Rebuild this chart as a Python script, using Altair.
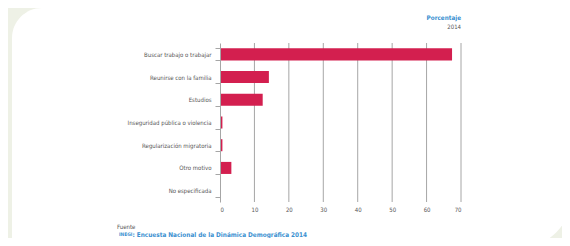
import altair as alt
import pandas as pd

categories = [
    "Buscar trabajo o trabajar",
    "Reunirse con la familia",
    "Estudios",
    "Inseguridad pública o violencia",
    "Regularización migratoria",
    "Otro motivo",
    "No especificada",
]
values = [67.4, 14.2, 12.4, 0.7, 0.7, 3.3, 0.0]
x_ticks = [0, 10, 20, 30, 40, 50, 60, 70]

df = pd.DataFrame({"motivo": categories, "pct": values})
grid_df = pd.DataFrame({"pct": x_ticks[1:]})
one = pd.DataFrame({"a": [0]})

FONT = "DejaVu Sans Condensed"
GRAY = "#a6a6a6"
BLUE = "#3a8fd0"
BG = "#eef1e6"
TXT = "#555555"

xscale = alt.Scale(domain=[0, 70], nice=False)
xaxis = alt.Axis(values=x_ticks, title=None, domain=False, ticks=False,
                 grid=False, zindex=1,
                 labelFont=FONT, labelFontSize=6, labelColor=TXT,
                 labelPadding=4)

panel = alt.Chart(one).mark_rect(
    color="white", cornerRadiusTopLeft=30, cornerRadiusBottomRight=50
).encode(
    x=alt.value(-208), x2=alt.value(351), y=alt.value(-35), y2=alt.value(204)
)

grid = alt.Chart(grid_df).mark_rule(color=GRAY, strokeWidth=1).encode(
    x=alt.X("pct:Q", scale=xscale, axis=xaxis),
    y=alt.value(0), y2=alt.value(159),
)

bars = alt.Chart(df).mark_bar(color="#d31f4f").encode(
    x=alt.X("pct:Q", scale=xscale, axis=xaxis),
    y=alt.Y("motivo:N", sort=categories,
            scale=alt.Scale(paddingInner=0.47, paddingOuter=0.235),
            axis=alt.Axis(title=None, domain=True, domainColor=GRAY, domainWidth=1,
                          ticks=True, tickColor=GRAY, tickSize=5, tickBand="extent",
                          labelFont=FONT, labelFontSize=6, labelColor=TXT,
                          labelPadding=4, grid=False, zindex=1)),
)

t_title = alt.Chart(one).mark_text(
    text="Porcentaje", font=FONT, fontSize=6.3, fontWeight="bold", color=BLUE,
    align="right", baseline="middle"
).encode(x=alt.value(241), y=alt.value(-25))

t_year = alt.Chart(one).mark_text(
    text="2014", font=FONT, fontSize=6, color=TXT,
    align="right", baseline="middle"
).encode(x=alt.value(241), y=alt.value(-16))

t_fuente = alt.Chart(one).mark_text(
    text="Fuente", font=FONT, fontSize=6, color=TXT,
    align="left", baseline="middle"
).encode(x=alt.value(-103), y=alt.value(184))

t_inegi = alt.Chart(one).mark_text(
    text="INEGI", font=FONT, fontSize=4.8, fontWeight="bold", color=BLUE,
    align="left", baseline="middle"
).encode(x=alt.value(-101), y=alt.value(192))

t_src = alt.Chart(one).mark_text(
    text=": Encuesta Nacional de la Dinámica Demográfica 2014", font=FONT,
    fontSize=6.4, fontWeight="bold", color=BLUE,
    align="left", baseline="middle"
).encode(x=alt.value(-87.5), y=alt.value(191.5))

chart = alt.layer(panel, grid, bars, t_title, t_year, t_fuente, t_inegi, t_src).properties(
    width=241, height=159,
    autosize=alt.AutoSizeParams(type="none"),
    padding={"left": 212, "top": 35, "right": 101, "bottom": 36},
    background=BG,
).configure_view(stroke=None)

chart.save("out.html", embed_options={"renderer": "svg", "actions": False})
